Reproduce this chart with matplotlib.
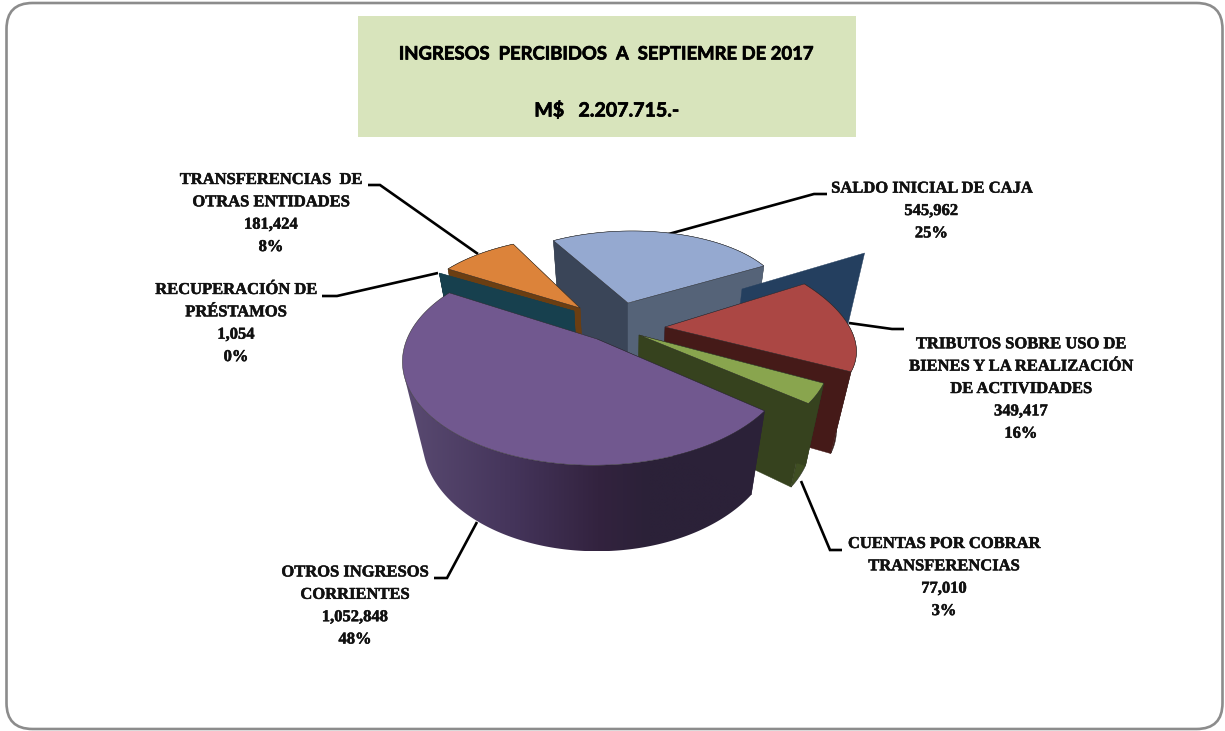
import numpy as np
import matplotlib
matplotlib.use("Agg")
import matplotlib.pyplot as plt
import matplotlib.patheffects as pe
from matplotlib.colors import LinearSegmentedColormap
from matplotlib.patches import FancyBboxPatch, Polygon, Rectangle

W, H = 1225, 731

title_lines = ["INGRESOS  PERCIBIDOS  A  SEPTIEMRE DE 2017", "M$   2.207.715.-"]
categories = ["SALDO INICIAL DE CAJA",
              "TRIBUTOS SOBRE USO DE\nBIENES Y LA REALIZACIÓN\nDE ACTIVIDADES",
              "CUENTAS POR COBRAR\nTRANSFERENCIAS",
              "OTROS INGRESOS\nCORRIENTES",
              "RECUPERACIÓN DE\nPRÉSTAMOS",
              "TRANSFERENCIAS  DE\nOTRAS ENTIDADES"]
values = [545962, 349417, 77010, 1052848, 1054, 181424]
percent_labels = ["25%", "16%", "3%", "48%", "0%", "8%"]

# layout / style -------------------------------------------------------------
START = 120.0
VP = np.array([628.0, 1270.0])
# apex x, apex y, rx, d, ry, e, k  (projected ellipse of each exploded slice)
geom = [(628, 303, 156, 4, 72, 0, 0),
        (665, 327, 187, -41, 92, 5, 0),
        (639, 335, 188, -36, 110, 0, 0),
        (597, 339, 190, 3, 101, 0, 0.2),
        (574, 311, 156, 0, 75, 0, 0),
        (580, 308, 163, 17, 72, 3, 0)]
top_col = ["#95a9d0", "#ab4744", "#89a54e", "#71588f", "#17404e", "#dc833a"]
start_face = ["#3a4558", "#24395a", "#36421e", "#2b2138", "#17404e", "#6b3e12"]
end_face = ["#556378", "#451a18", "#36421e", "#2b2138", "#17404e", "#6b3e12"]
arc_col = ["#556378", "#451a18", "#3f4e22", None, "#17404e", "#6b3e12"]
label_xy = [(931.5, 211), (1021, 389), (944, 577.5), (355, 606), (236, 323.5), (271, 213.5)]
leaders = [[(665, 235), (814, 194), (827, 194)],
           [(849, 323), (892, 329), (904, 329)],
           [(801, 481), (830, 550), (842, 550)],
           [(477, 522), (447, 578), (434, 578)],
           [(438, 273), (337, 296), (322, 296)],
           [(478, 254), (380, 185), (368, 185)]]

fig = plt.figure(figsize=(W / 100, H / 100), dpi=100, facecolor="white")
ax = fig.add_axes([0, 0, 1, 1])
ax.axis("off")

ax.add_patch(FancyBboxPatch((6.5 + 26, 3 + 26), 1216 - 52, 726 - 52,
                            boxstyle="round,pad=26,rounding_size=26",
                            fc="white", ec="#8c8c8c", lw=1.9, zorder=0))
ax.add_patch(Rectangle((358, 16), 498, 121, fc="#d8e4bc", ec="none", zorder=1))
title_fx = [pe.withStroke(linewidth=0.5, foreground="black")]
ax.text(606.5, 54, title_lines[0], ha="center", va="center", family="Lato",
        weight="bold", fontsize=13.3, color="black", zorder=2, path_effects=title_fx)
ax.text(607, 110, title_lines[1], ha="center", va="center", family="Lato",
        weight="bold", fontsize=14.1, color="black", zorder=2, path_effects=title_fx)


def pt(g, theta):
    th = np.radians(theta)
    ax0, ay0, rx, d, ry, e, k = g
    s = 1.0 / (1.0 + k * np.sin(th))
    return np.column_stack([ax0 + (rx * np.cos(th) + d * np.sin(th)) * s,
                            ay0 + (-ry * np.sin(th) + e * np.cos(th)) * s])


def drop(p):
    t = 0.098 + 0.00017 * (p[:, 1:2] - 413.0)
    return p + t * (VP - p)


angles = START - np.concatenate([[0], np.cumsum(values)]) / sum(values) * 360.0


def face(g, theta, color, z):
    apex = np.array([[g[0], g[1]]], float)
    c = pt(g, np.array([theta]))
    poly = np.vstack([apex, c, drop(c), drop(apex)])
    ax.add_patch(Polygon(poly, closed=True, fc=color, ec=color, lw=0.3, zorder=z))


purple_cmap = LinearSegmentedColormap.from_list(
    "side", [(0, "#5a4b72"), (0.31, "#44345a"), (0.54, "#33233f"), (0.68, "#2b2138"), (1, "#2b2138")])


def draw_slice(i, z):
    g = geom[i]
    t0, t1 = angles[i], angles[i + 1]
    ts = np.linspace(t0, t1, 240)
    arc = pt(g, ts)
    apex = np.array([[g[0], g[1]]], float)
    if arc_col[i] is None:
        # only the front of the rim is visible: stop where it folds at the silhouette
        tang = np.diff(arc, axis=0)
        dirn = drop(arc)[:-1] - arc[:-1]
        cross = tang[:, 0] * dirn[:, 1] - tang[:, 1] * dirn[:, 0]
        flip = np.nonzero(np.sign(cross) != np.sign(cross[0]))[0]
        n = flip[0] + 1 if len(flip) else len(arc)
        front = arc[:n]
        q = np.vstack([front, drop(front)[::-1]])
        patch = Polygon(q, closed=True, fc="none", ec="none", zorder=z)
        ax.add_patch(patch)
        x0 = arc[:, 0].min()
        im = ax.imshow(np.linspace(0, 1, 256)[None, :], cmap=purple_cmap, aspect="auto",
                       extent=[x0, q[:, 0].max(), q[:, 1].max(), q[:, 1].min()],
                       zorder=z, interpolation="bilinear")
        im.set_clip_path(patch)
    else:
        q = np.vstack([arc, drop(arc)[::-1]])
        ax.add_patch(Polygon(q, closed=True, fc=arc_col[i], ec="#222222", lw=0.3, zorder=z))
    face(g, t0, start_face[i], z + 0.1)
    if arc_col[i] is not None:
        face(g, t1, end_face[i], z + 0.1)
    if i != 4:
        top = np.vstack([apex, arc])
        ax.add_patch(Polygon(top, closed=True, fc=top_col[i], ec="#2a2a2a", lw=0.35, zorder=z + 0.2))


# blue, orange, teal, back facet of the red slice, red, green, purple
draw_slice(0, 3)
draw_slice(5, 4)
draw_slice(4, 5)
face((742, 289, 143, 0, 70, 0, 0), angles[1], "#243f5f", 6)
draw_slice(1, 7)
draw_slice(2, 8)
draw_slice(3, 9)

for seg in leaders:
    xs, ys = zip(*seg)
    ax.plot(xs, ys, color="black", lw=1.9, solid_capstyle="butt",
            solid_joinstyle="miter", zorder=2)

for name, v, p, (x, y) in zip(categories, values, percent_labels, label_xy):
    ax.text(x, y, f"{name}\n{v:,}\n{p}", ha="center", va="center",
            family="Liberation Serif", weight="bold", fontsize=11.9,
            linespacing=1.53, color="#111111", zorder=12,
            path_effects=[pe.withStroke(linewidth=0.35, foreground="#111111")])

ax.set_xlim(0, W)
ax.set_ylim(H, 0)
fig.savefig("out.png", dpi=100, facecolor="white")
